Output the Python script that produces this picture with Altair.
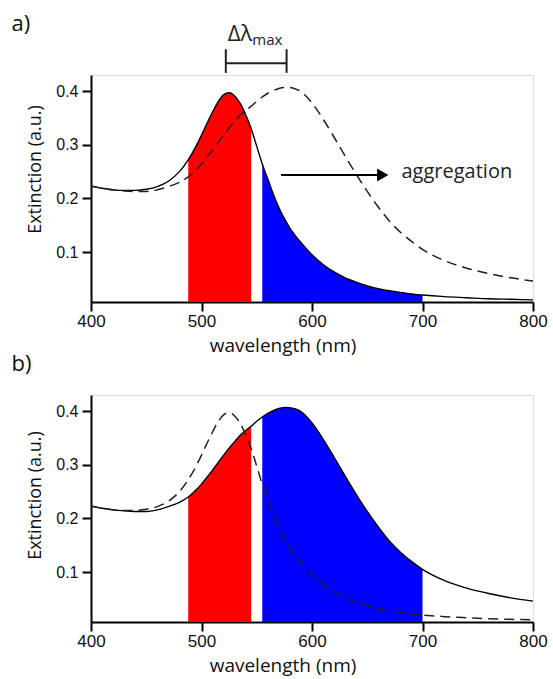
import altair as alt
import pandas as pd

# ---- data ----
wavelength = [400, 410, 420, 430, 440, 450, 460, 470, 480, 488, 495, 500, 505, 510, 515,
              520, 525, 530, 535, 540, 545, 550, 555, 560, 565, 570, 577, 585, 590, 600,
              610, 620, 630, 640, 650, 660, 670, 680, 690, 700, 720, 740, 760, 780, 800]

ext_original = [0.223, 0.219, 0.216, 0.215, 0.215, 0.217, 0.222, 0.232, 0.250, 0.272, 0.297,
                0.318, 0.340, 0.361, 0.380, 0.393, 0.397, 0.391, 0.377, 0.356, 0.330, 0.297,
                0.264, 0.236, 0.208, 0.183, 0.155, 0.130, 0.118, 0.095, 0.077, 0.063, 0.052,
                0.044, 0.037, 0.032, 0.028, 0.025, 0.022, 0.020, 0.017, 0.015, 0.013, 0.012,
                0.011]

ext_aggregated = [0.223, 0.219, 0.216, 0.214, 0.213, 0.213, 0.216, 0.222, 0.230, 0.240, 0.253,
                  0.264, 0.277, 0.290, 0.304, 0.318, 0.331, 0.343, 0.355, 0.364, 0.372, 0.381,
                  0.389, 0.396, 0.401, 0.405, 0.407, 0.404, 0.399, 0.378, 0.348, 0.314, 0.279,
                  0.245, 0.213, 0.184, 0.158, 0.137, 0.120, 0.105, 0.084, 0.070, 0.060, 0.052,
                  0.046]

red_band = [488, 545]
blue_band = [555, 700]

x_ticks = [400, 500, 600, 700, 800]
y_ticks = [0.1, 0.2, 0.3, 0.4]

# annotation anchors (data coordinates)
bracket_x = [522, 577]
bracket_y = 0.452
bracket_end_y = [0.434, 0.478]
delta_x = 546
delta_y = [0.4932, 0.4857]
arrow_x = [572, 664]
arrow_y = 0.2435
aggregation_x = 681
aggregation_y = 0.238
panel_label_x = 328
panel_label_y = {"a)": 0.5437, "b)": 0.5064}

YMIN, YMAX = 0.007, 0.43
W, H = 442, 227

TITLE_FONT = "Open Sans"
LABEL_FONT = "Liberation Sans"

XS = alt.Scale(domain=[400, 800], nice=False, zero=False)
YS = alt.Scale(domain=[YMIN, YMAX], nice=False, zero=False)

XAXIS = alt.Axis(values=x_ticks, title="wavelength (nm)", grid=False, labelFlush=False,
                 domainColor="black", domainWidth=2, tickColor="black", tickWidth=2,
                 tickSize=9, labelFont=LABEL_FONT, labelFontSize=17, labelColor="#111",
                 labelPadding=2, titleFont=TITLE_FONT, titleFontSize=19,
                 titleFontWeight="normal", titleColor="#111", titleX=191.5, titleY=34,
                 titleBaseline="top", titleAlign="center")


def yaxis(title_y):
    return alt.Axis(values=y_ticks, format=".1f", title="Extinction (a.u.)", grid=False,
                    labelFlush=False,
                    domainColor="black", domainWidth=2, tickColor="black", tickWidth=2,
                    tickSize=9, labelFont=LABEL_FONT, labelFontSize=16, labelColor="#111",
                    labelPadding=4, titleFont=TITLE_FONT, titleFontSize=18,
                    titleFontWeight="normal", titleColor="#111", titleX=-47, titleY=title_y,
                    titleAlign="center", titleBaseline="bottom", titleAngle=270)


def panel(fill_series, dashed_series, label, title_y, annotate):
    X = alt.X("wl:Q", scale=XS, axis=XAXIS)
    Y = alt.Y("ext:Q", scale=YS, axis=yaxis(title_y))
    df_fill = pd.DataFrame({"wl": wavelength, "ext": fill_series})
    df_dash = pd.DataFrame({"wl": wavelength, "ext": dashed_series})

    red = alt.Chart(df_fill).transform_filter(
        f"datum.wl >= {red_band[0]} && datum.wl <= {red_band[1]}"
    ).mark_area(color="#ff0000", interpolate="monotone").encode(x=X, y=Y, y2=alt.datum(YMIN))
    blue = alt.Chart(df_fill).transform_filter(
        f"datum.wl >= {blue_band[0]} && datum.wl <= {blue_band[1]}"
    ).mark_area(color="#0000ff", interpolate="monotone").encode(x=X, y=Y, y2=alt.datum(YMIN))
    solid = alt.Chart(df_fill).mark_line(color="black", strokeWidth=1.4,
                                         interpolate="monotone").encode(x=X, y=Y)
    dashed = alt.Chart(df_dash).mark_line(color="#222", strokeWidth=1.5, strokeDash=[10, 6],
                                          interpolate="monotone").encode(x=X, y=Y)
    lab = alt.Chart(pd.DataFrame({"wl": [panel_label_x], "ext": [panel_label_y[label]],
                                  "t": [label]})).mark_text(
        align="left", baseline="top", font=TITLE_FONT, fontSize=22, color="#111"
    ).encode(x=X, y=Y, text="t:N")
    layers = [red, blue, solid, dashed, lab]

    if annotate:
        br = alt.Chart(pd.DataFrame({"wl": [bracket_x[0]], "wl2": [bracket_x[1]],
                                     "ext": [bracket_y]})).mark_rule(
            color="#222", strokeWidth=2).encode(x=X, x2="wl2:Q", y=Y)
        ends = alt.Chart(pd.DataFrame({"wl": bracket_x,
                                       "ext": [bracket_end_y[0]] * 2,
                                       "ext2": [bracket_end_y[1]] * 2})).mark_rule(
            color="#222", strokeWidth=2).encode(x=X, y=Y, y2="ext2:Q")
        d1 = alt.Chart(pd.DataFrame({"wl": [delta_x], "ext": [delta_y[0]], "t": ["Δλ"]})
                       ).mark_text(align="right", baseline="alphabetic", font=TITLE_FONT,
                                   fontSize=22, color="#222").encode(x=X, y=Y, text="t:N")
        d2 = alt.Chart(pd.DataFrame({"wl": [delta_x], "ext": [delta_y[1]], "t": ["max"]})
                       ).mark_text(align="left", baseline="alphabetic", font=TITLE_FONT,
                                   fontSize=15, color="#222").encode(x=X, y=Y, text="t:N")
        arr = alt.Chart(pd.DataFrame({"wl": [arrow_x[0]], "wl2": [arrow_x[1]],
                                      "ext": [arrow_y]})).mark_rule(
            color="black", strokeWidth=2).encode(x=X, x2="wl2:Q", y=Y)
        head = alt.Chart(pd.DataFrame({"wl": [arrow_x[1]], "ext": [arrow_y]})).mark_point(
            shape="triangle-right", filled=True, size=170, color="black", opacity=1
        ).encode(x=X, y=Y)
        agg = alt.Chart(pd.DataFrame({"wl": [aggregation_x], "ext": [aggregation_y],
                                      "t": ["aggregation"]})).mark_text(
            align="left", baseline="alphabetic", font=TITLE_FONT, fontSize=20, color="#222"
        ).encode(x=X, y=Y, text="t:N")
        layers += [br, ends, d1, d2, arr, head, agg]

    return alt.layer(*layers).properties(width=W, height=H)


top = panel(ext_original, ext_aggregated, "a)", 94, True)
bottom = panel(ext_aggregated, ext_original, "b)", 100, False)

chart = alt.vconcat(top, bottom, spacing=93, bounds="flush").properties(
    padding={"left": 10, "top": 12, "right": 0, "bottom": 0}
).configure_view(stroke=None).configure(background="white")

chart.save("out.html", embed_options={"renderer": "svg", "actions": False})
